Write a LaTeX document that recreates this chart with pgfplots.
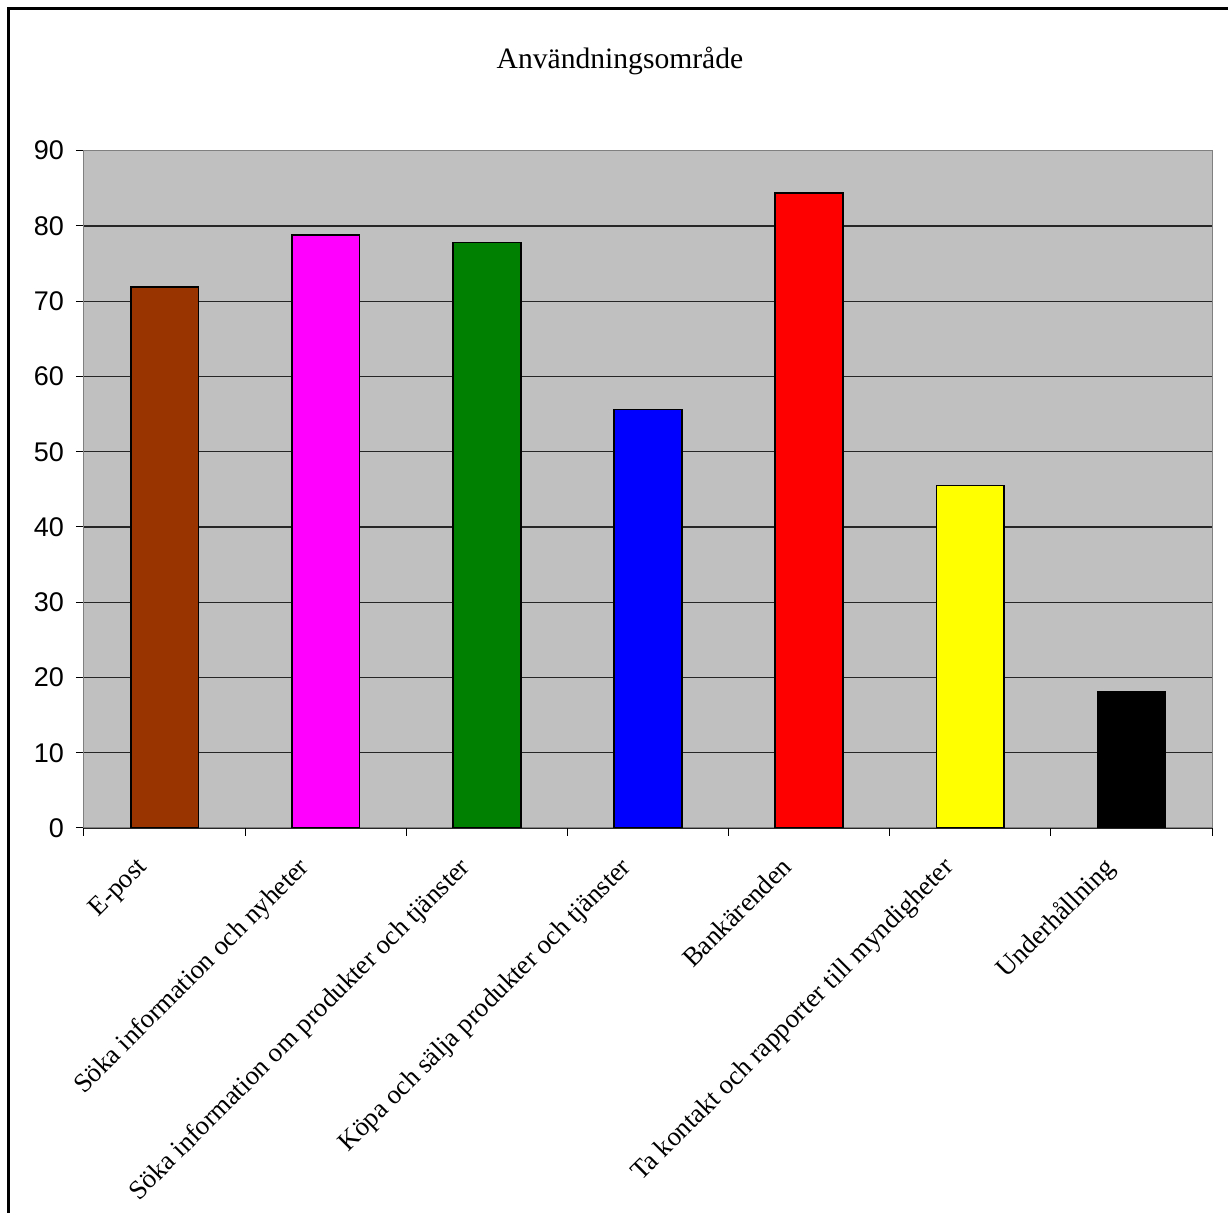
\documentclass[border=0pt]{standalone}
\usepackage{pgfplots}
\pgfplotsset{compat=1.18}
\usepackage{fontspec}
\setmainfont{Liberation Serif}
\newfontfamily\arial{Liberation Sans}
\definecolor{cbrown}{HTML}{993300}
\definecolor{cmag}{HTML}{FF00FF}
\definecolor{cgreen}{HTML}{008000}
\definecolor{cblue}{HTML}{0000FF}
\definecolor{cred}{HTML}{FF0000}
\definecolor{cyellow}{HTML}{FFFF00}
\definecolor{cbg}{HTML}{C0C0C0}
\begin{document}
\begin{tikzpicture}
\useasboundingbox (0,0) rectangle (614pt,606.5pt);
\draw[line width=1.5pt] (4pt,-10pt) -- (4pt,602pt) -- (630pt,602pt);
\node[anchor=base, font=\fontsize{14.8}{17}\selectfont] at (310pt,572pt) {Användningsområde};
\begin{axis}[
  at={(42pt,192.5pt)}, anchor=south west,
  scale only axis, width=564pt, height=338.65pt,
  xmin=-0.5, xmax=6.5, ymin=0, ymax=90,
  axis background/.style={fill=cbg},
  axis line style={draw=black!50, line width=0.5pt},
  ytick={0,10,...,90},
  ymajorgrids, major grid style={draw=black!85, line width=0.6pt},
  xtick={0,...,6},
  xticklabels={E-post,Söka information och nyheter,Söka information om produkter och tjänster,Köpa och sälja produkter och tjänster,Bankärenden,Ta kontakt och rapporter till myndigheter,Underhållning},
  minor xtick={-0.5,0.5,...,6.5},
  major x tick style={draw=none},
  tick align=outside, tick pos=left,
  major tick length=4pt, minor tick length=4pt,
  tick style={draw=black, line width=0.5pt},
  xticklabel style={xshift=-14.5pt, yshift=-4.8pt, rotate=45, anchor=north east, font=\fontsize{13.4}{15}\selectfont},
  yticklabel style={font=\arial\fontsize{13.5}{15}\selectfont, xshift=-2.5pt},
  /pgf/number format/assume math mode=true,
  bar width=0.42,
]
\addplot[ybar, bar shift=0pt, fill=cbrown, draw=black, line width=0.9pt] coordinates {(0,71.9)};
\addplot[ybar, bar shift=0pt, fill=cmag, draw=black, line width=0.9pt] coordinates {(1,78.8)};
\addplot[ybar, bar shift=0pt, fill=cgreen, draw=black, line width=0.9pt] coordinates {(2,77.8)};
\addplot[ybar, bar shift=0pt, fill=cblue, draw=black, line width=0.9pt] coordinates {(3,55.6)};
\addplot[ybar, bar shift=0pt, fill=cred, draw=black, line width=0.9pt] coordinates {(4,84.4)};
\addplot[ybar, bar shift=0pt, fill=cyellow, draw=black, line width=0.9pt] coordinates {(5,45.5)};
\addplot[ybar, bar shift=0pt, fill=black, draw=black, line width=0.9pt] coordinates {(6,18.1)};
\end{axis}
\end{tikzpicture}
\end{document}
